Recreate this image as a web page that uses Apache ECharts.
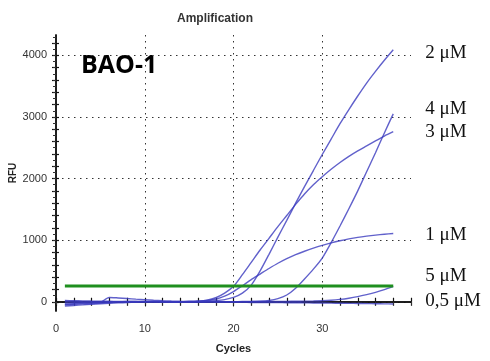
<!DOCTYPE html>
<html>
<head>
<meta charset="utf-8">
<script src="https://cdn.jsdelivr.net/npm/echarts@6/dist/echarts.min.js"></script>
<style>
  html, body { margin: 0; padding: 0; background: #fff; }
  #chart { width: 490px; height: 361px; }
</style>
</head>
<body>
<div id="chart"></div>
<script>
// qPCR amplification curves (RFU per cycle) for each primer concentration
const cycles = [1,2,3,4,5,6,7,8,9,10,11,12,13,14,15,16,17,18,19,20,21,22,23,24,25,26,27,28,29,30,31,32,33,34,35,36,37,38];

const rfu2uM  = [-50,-42,-35,-28,-20,-12,-6,-2,0,2,2,0,-2,-2,0,3,8,18,35,70,140,270,500,770,1050,1320,1600,1870,2130,2390,2640,2890,3120,3340,3550,3740,3920,4090];
const rfu4uM  = [5,3,0,-2,-3,-3,-2,0,0,0,-2,-3,-4,-4,-4,-3,-3,-2,0,0,2,4,8,20,50,110,220,370,530,710,960,1230,1510,1800,2110,2420,2740,3050];
const rfu3uM  = [-20,-15,-10,-5,-2,0,2,3,3,2,0,-2,-3,-2,3,10,25,65,140,250,440,640,840,1030,1220,1400,1580,1750,1900,2030,2150,2260,2360,2450,2530,2610,2690,2760];
const rfu1uM  = [20,18,15,12,10,8,6,5,5,5,4,3,2,2,5,10,20,40,90,165,260,360,450,540,625,700,765,820,870,915,955,990,1020,1045,1065,1082,1096,1108];
const rfu5uM  = [-40,-32,-25,-18,-10,70,62,52,42,33,25,18,12,8,5,3,2,2,2,2,3,3,4,5,6,7,8,10,12,16,24,38,58,84,116,152,196,250];
const rfu05uM = [-70,-60,-50,-40,-32,-25,-18,-12,-7,-3,-2,-2,-3,-4,-5,-6,-6,-7,-8,-9,-10,-11,-12,-13,-14,-15,-16,-18,-19,-20,-22,-24,-26,-28,-30,-32,-34,-36];

const seriesNames = ['2 μM', '4 μM', '3 μM', '1 μM', '5 μM', '0,5 μM'];
const seriesValues = [rfu2uM, rfu4uM, rfu3uM, rfu1uM, rfu5uM, rfu05uM];

// threshold line
const thresholdCycles = [1, 38];
const thresholdRFU = 255;

// axis tick labels
const xTickLabels = [0, 10, 20, 30];
const yTickLabels = [0, 1000, 2000, 3000, 4000];

// vertical nudges for the end labels so they do not collide
const endLabelShift = [3, -5, 0, 1.5, -10, -3];

const narrow = '"Liberation Sans Narrow", "Liberation Sans", Arial, sans-serif';
const X_MIN = 0, X_MAX = 40;
const Y_MIN = -150, Y_MAX = 4330;

function range(a, b, step) {
  const out = [];
  for (let v = a; v <= b + 1e-9; v += step) out.push(v);
  return out;
}

const yTicksLeft = range(0, 4200, 200);
const yTicksRight = range(0, 4300, 100);

const baseX = { type: 'value', min: X_MIN, max: X_MAX, gridIndex: 0 };
const baseY = { type: 'value', min: Y_MIN, max: Y_MAX, gridIndex: 0 };
const blackLine = { show: true, lineStyle: { color: '#111', width: 1.5 } };
const dotted = { show: true, lineStyle: { color: '#333', width: 1, type: [1.5, 4.5] } };

const chart = echarts.init(document.getElementById('chart'), null, { renderer: 'canvas' });

const curveSeries = seriesNames.map((name, i) => ({
  name,
  type: 'line',
  xAxisIndex: 0,
  yAxisIndex: 0,
  data: cycles.map((c, k) => [c, seriesValues[i][k]]),
  showSymbol: false,
  smooth: 0.25,
  lineStyle: { color: 'rgba(58,58,190,0.8)', width: 1.4 },
  z: 3,
  endLabel: {
    show: true,
    formatter: '{a}',
    distance: 32,
    offset: [0, endLabelShift[i]],
    fontFamily: '"Liberation Serif", "Times New Roman", serif',
    fontSize: 19,
    color: '#111'
  }
}));

const option = {
  animation: false,
  backgroundColor: '#fff',
  title: {
    text: 'Amplification',
    left: 172,
    top: 8,
    textStyle: { fontFamily: narrow, fontSize: 12, fontWeight: 'bold', color: '#333' }
  },
  graphic: [{
    type: 'text',
    left: 81,
    top: 53,
    style: { text: 'BAO-1', font: 'bold 25px "Open Sans", "Liberation Sans", sans-serif', fill: '#000' }
  }],
  grid: { left: 56, top: 35, width: 355, height: 276, outerBoundsMode: 'none', containLabel: false },
  xAxis: [
    Object.assign({}, baseX, {
      position: 'bottom',
      interval: 2,
      axisLine: blackLine,
      axisTick: { show: true, length: 4, inside: false, lineStyle: { color: '#111', width: 1.2 } },
      axisLabel: { customValues: xTickLabels, margin: 12, fontFamily: narrow, fontSize: 11, color: '#333' },
      splitLine: { show: false },
      name: 'Cycles',
      nameLocation: 'middle',
      nameGap: 32,
      nameMoveOverlap: false,
      nameTextStyle: { fontFamily: narrow, fontSize: 11, fontWeight: 'bold', color: '#222' }
    }),
    Object.assign({}, baseX, {
      position: 'bottom',
      interval: 2,
      axisLine: { show: false },
      axisTick: { show: true, length: 4, inside: true, lineStyle: { color: '#111', width: 1.2 } },
      axisLabel: { show: false },
      splitLine: { show: false }
    }),
    Object.assign({}, baseX, {
      position: 'top',
      interval: 2,
      axisLine: blackLine,
      axisTick: { show: true, length: 3, inside: true, lineStyle: { color: '#333', width: 1 } },
      axisLabel: { show: false },
      splitLine: { show: false }
    }),
    Object.assign({}, baseX, {
      position: 'bottom',
      axisLine: { show: false },
      axisTick: { show: false, customValues: [10, 20, 30] },
      axisLabel: { show: false },
      splitLine: dotted
    })
  ],
  yAxis: [
    Object.assign({}, baseY, {
      position: 'left',
      axisLine: blackLine,
      axisTick: { show: true, customValues: yTicksLeft, length: 4, inside: false, lineStyle: { color: '#111', width: 1.2 } },
      axisLabel: {
        customValues: yTickLabels,
        formatter: v => String(v),
        margin: 9, fontFamily: narrow, fontSize: 11, color: '#333'
      },
      splitLine: { show: false },
      name: 'RFU',
      nameLocation: 'middle',
      nameRotate: 90,
      nameGap: 38,
      nameMoveOverlap: false,
      nameTextStyle: { fontFamily: narrow, fontSize: 10, fontWeight: 'bold', color: '#222' }
    }),
    Object.assign({}, baseY, {
      position: 'left',
      axisLine: { show: false },
      axisTick: { show: true, customValues: yTicksLeft, length: 3, inside: true, lineStyle: { color: '#111', width: 1.2 } },
      axisLabel: { show: false },
      splitLine: { show: false }
    }),
    Object.assign({}, baseY, {
      position: 'left',
      axisLine: { show: false },
      axisTick: { show: false, customValues: yTickLabels },
      axisLabel: { show: false },
      splitLine: dotted
    }),
    Object.assign({}, baseY, {
      position: 'right',
      axisLine: blackLine,
      axisTick: { show: true, customValues: yTicksRight, length: 3, inside: true, lineStyle: { color: '#333', width: 1 } },
      axisLabel: { show: false },
      splitLine: { show: false }
    })
  ],
  series: curveSeries.concat([{
    name: 'Threshold',
    type: 'line',
    xAxisIndex: 0,
    yAxisIndex: 0,
    data: thresholdCycles.map(c => [c, thresholdRFU]),
    showSymbol: false,
    lineStyle: { color: '#1f8f1f', width: 3 },
    z: 4
  }])
};

chart.setOption(option);
</script>
</body>
</html>
